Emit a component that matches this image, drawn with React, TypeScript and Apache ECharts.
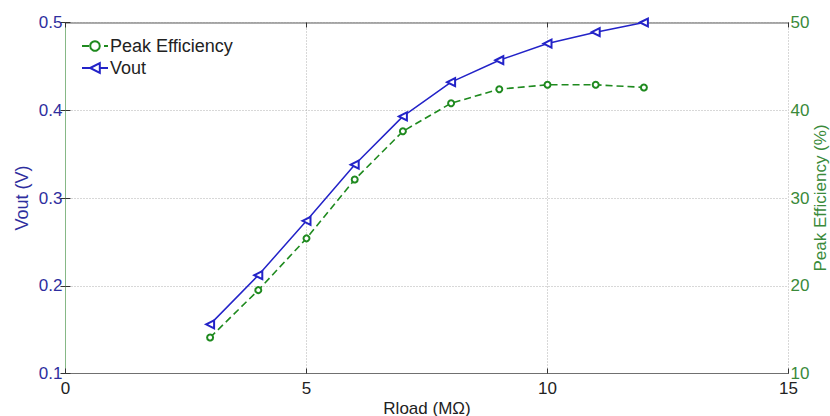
import React, { useEffect, useRef } from "react";
import * as echarts from "echarts";

const rload = [3, 4, 5, 6, 7, 8, 9, 10, 11, 12];
const vout = [0.156, 0.212, 0.274, 0.338, 0.393, 0.432, 0.457, 0.476, 0.489, 0.5];
const efficiency = [14.1, 19.5, 25.4, 32.1, 37.6, 40.8, 42.4, 42.9, 42.9, 42.6];
const xTicks = [0, 5, 10, 15];
const voutTicks = [0.1, 0.2, 0.3, 0.4, 0.5];
const effTicks = [10, 20, 30, 40, 50];

const FONT = "'Liberation Sans', Arial, Helvetica, sans-serif";
const BLUE = "#2323c8";
const GREEN = "#1f8a1f";
const BLUE_TXT = "#2e2e9e";
const GREEN_TXT = "#3a8a3a";

export default function App() {
  const ref = useRef<HTMLDivElement>(null);
  useEffect(() => {
    if (!ref.current) return;
    const chart = echarts.init(ref.current, null, { renderer: "svg" });
    chart.setOption({
      animation: false,
      textStyle: { fontFamily: FONT },
      grid: {
        left: 65.5,
        right: 41.5,
        top: 22.5,
        bottom: 42.5,
        containLabel: false,
        outerBoundsMode: "none",
      },
      legend: {
        orient: "vertical",
        left: 76,
        top: 32,
        itemWidth: 26,
        itemHeight: 12,
        itemGap: 4,
        data: ["Peak Efficiency", "Vout"],
        textStyle: { fontFamily: FONT, fontSize: 18, color: "#222", padding: [0, 0, 0, -3] },
      },
      xAxis: [
        {
          type: "value",
          min: xTicks[0],
          max: xTicks[xTicks.length - 1],
          interval: 5,
          position: "bottom",
          name: "Rload (MΩ)",
          nameLocation: "middle",
          nameGap: 26,
          nameMoveOverlap: false,
          nameTextStyle: { fontFamily: FONT, fontSize: 17, color: "#222" },
          axisLine: { show: true, lineStyle: { color: "#707070", width: 1 } },
          axisTick: { show: true, inside: true, length: 5, lineStyle: { color: "#333" } },
          axisLabel: { fontFamily: FONT, fontSize: 17, color: "#222", margin: 6 },
          splitLine: { show: true, lineStyle: { color: "#b0b0b0", type: [1, 2], width: 1 } },
        },
        {
          type: "value",
          min: xTicks[0],
          max: xTicks[xTicks.length - 1],
          interval: 5,
          position: "top",
          axisLine: { show: true, lineStyle: { color: "#909090", width: 1.5 } },
          axisTick: { show: true, inside: true, length: 5, lineStyle: { color: "#333" } },
          axisLabel: { show: false },
          splitLine: { show: false },
        },
      ],
      yAxis: [
        {
          type: "value",
          min: voutTicks[0],
          max: voutTicks[voutTicks.length - 1],
          interval: 0.1,
          position: "left",
          name: "Vout (V)",
          nameLocation: "middle",
          nameGap: 35,
          nameMoveOverlap: false,
          nameTextStyle: { fontFamily: FONT, fontSize: 18, color: BLUE_TXT },
          axisLine: { show: true, lineStyle: { color: "#86b886", width: 1 } },
          axisTick: { show: true, inside: true, length: 5, lineStyle: { color: "#333" } },
          axisLabel: {
            fontFamily: FONT,
            fontSize: 17,
            color: BLUE_TXT,
            margin: 3,
            formatter: (v: number) => v.toFixed(1),
          },
          splitLine: { show: true, lineStyle: { color: "#b0b0b0", type: [1, 2], width: 1 } },
        },
        {
          type: "value",
          min: effTicks[0],
          max: effTicks[effTicks.length - 1],
          interval: 10,
          position: "right",
          name: "Peak Efficiency (%)",
          nameLocation: "middle",
          nameGap: 23,
          nameMoveOverlap: false,
          nameTextStyle: { fontFamily: FONT, fontSize: 17, color: GREEN_TXT },
          axisLine: { show: true, lineStyle: { color: "#86b886", width: 1 } },
          axisTick: { show: true, inside: true, length: 5, lineStyle: { color: "#333" } },
          axisLabel: { fontFamily: FONT, fontSize: 17, color: GREEN_TXT, margin: 2 },
          splitLine: { show: false },
        },
      ],
      series: [
        {
          name: "Peak Efficiency",
          type: "line",
          xAxisIndex: 0,
          yAxisIndex: 1,
          data: rload.map((x, i) => [x, efficiency[i]]),
          symbol: "emptyCircle",
          symbolSize: 6,
          lineStyle: { color: GREEN, width: 1.6, type: [7, 4] },
          itemStyle: { color: GREEN, borderColor: GREEN, borderWidth: 1.2 },
          z: 2,
        },
        {
          name: "Vout",
          type: "line",
          xAxisIndex: 0,
          yAxisIndex: 0,
          data: rload.map((x, i) => [x, vout[i]]),
          symbol: "emptyTriangle",
          symbolRotate: 90,
          symbolSize: 8,
          lineStyle: { color: BLUE, width: 1.5 },
          itemStyle: { color: BLUE, borderColor: BLUE, borderWidth: 1.2 },
          z: 3,
        },
      ],
    });
    return () => chart.dispose();
  }, []);
  return (
    <div
      ref={ref}
      style={{ position: "fixed", left: 0, top: 0, width: 830, height: 416, background: "#fff" }}
    />
  );
}
